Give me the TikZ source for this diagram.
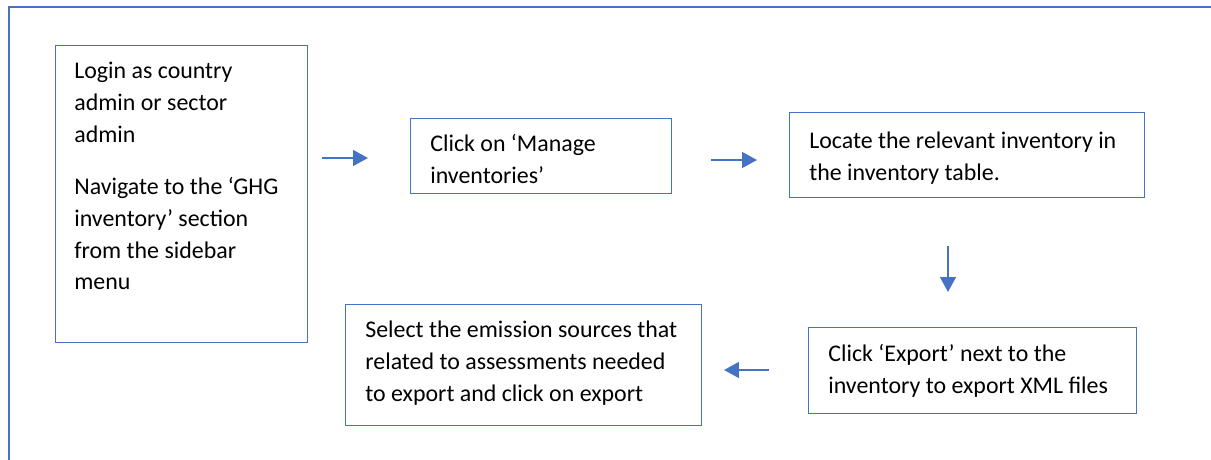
\documentclass[tikz,border=0pt]{standalone}
\usepackage{fontspec}
\setmainfont{Carlito}
\usetikzlibrary{arrows.meta}
\newlength\pxunit
\setlength\pxunit{0.02cm}
\definecolor{stepblue}{HTML}{4472C4}
\tikzset{
  stepbox/.style={draw=stepblue, line width=0.6pt, anchor=north west, inner sep=0pt},
  steptext/.style={anchor=west, align=left, inner sep=0pt,
    font=\fontsize{13.6pt}{18pt}\selectfont},
  flow/.style={draw=stepblue, line width=1pt, -{Triangle[length=8.5pt,width=9pt]}}
}
\begin{document}
\begin{tikzpicture}[x=0.02cm,y=-0.02cm]
\useasboundingbox (0,0) rectangle (1211,460);
% frame
\draw[stepblue, line width=0.6pt] (9,460) -- (9,7) -- (1211,7);
% boxes
\node[stepbox, minimum width=252\pxunit, minimum height=297\pxunit] (login) at (55,45) {};
\node[stepbox, minimum width=261\pxunit, minimum height=75\pxunit] (manage) at (410,118) {};
\node[stepbox, minimum width=355\pxunit, minimum height=85\pxunit] (locate) at (789,112) {};
\node[stepbox, minimum width=328\pxunit, minimum height=86\pxunit] (export) at (808,327) {};
\node[stepbox, minimum width=356\pxunit, minimum height=121\pxunit] (select) at (345,304) {};
% texts
\node[steptext, anchor=north west] (logintext) at ([shift={(19,17)}]login.north west)
  {Login as country\\ admin or sector\\ admin\\[12pt]
   Navigate to the ‘GHG\\ inventory’ section\\ from the sidebar\\ menu};
\node[steptext] (managetext) at ([shift={(20,3)}]manage.west) {Click on ‘Manage\\ inventories’};
\node[steptext] (locatetext) at ([shift={(20,3)}]locate.west) {Locate the relevant inventory in\\ the inventory table.};
\node[steptext] (exporttext) at ([shift={(20,0)}]export.west) {Click ‘Export’ next to the\\ inventory to export XML files};
\node[steptext] (selecttext) at ([shift={(20,-2)}]select.west)
  {Select the emission sources that\\ related to assessments needed\\ to export and click on export};
% arrows
\coordinate (a1s) at (322,158);
\coordinate (a1e) at (368,158);
\coordinate (a2s) at (711,160);
\coordinate (a2e) at (757,160);
\coordinate (a3s) at (948,246);
\coordinate (a3e) at (948,292);
\coordinate (a4s) at (769,370);
\coordinate (a4e) at (724,370);
\draw[flow] (a1s) -- (a1e);
\draw[flow] (a2s) -- (a2e);
\draw[flow] (a3s) -- (a3e);
\draw[flow] (a4s) -- (a4e);
\end{tikzpicture}
\end{document}
